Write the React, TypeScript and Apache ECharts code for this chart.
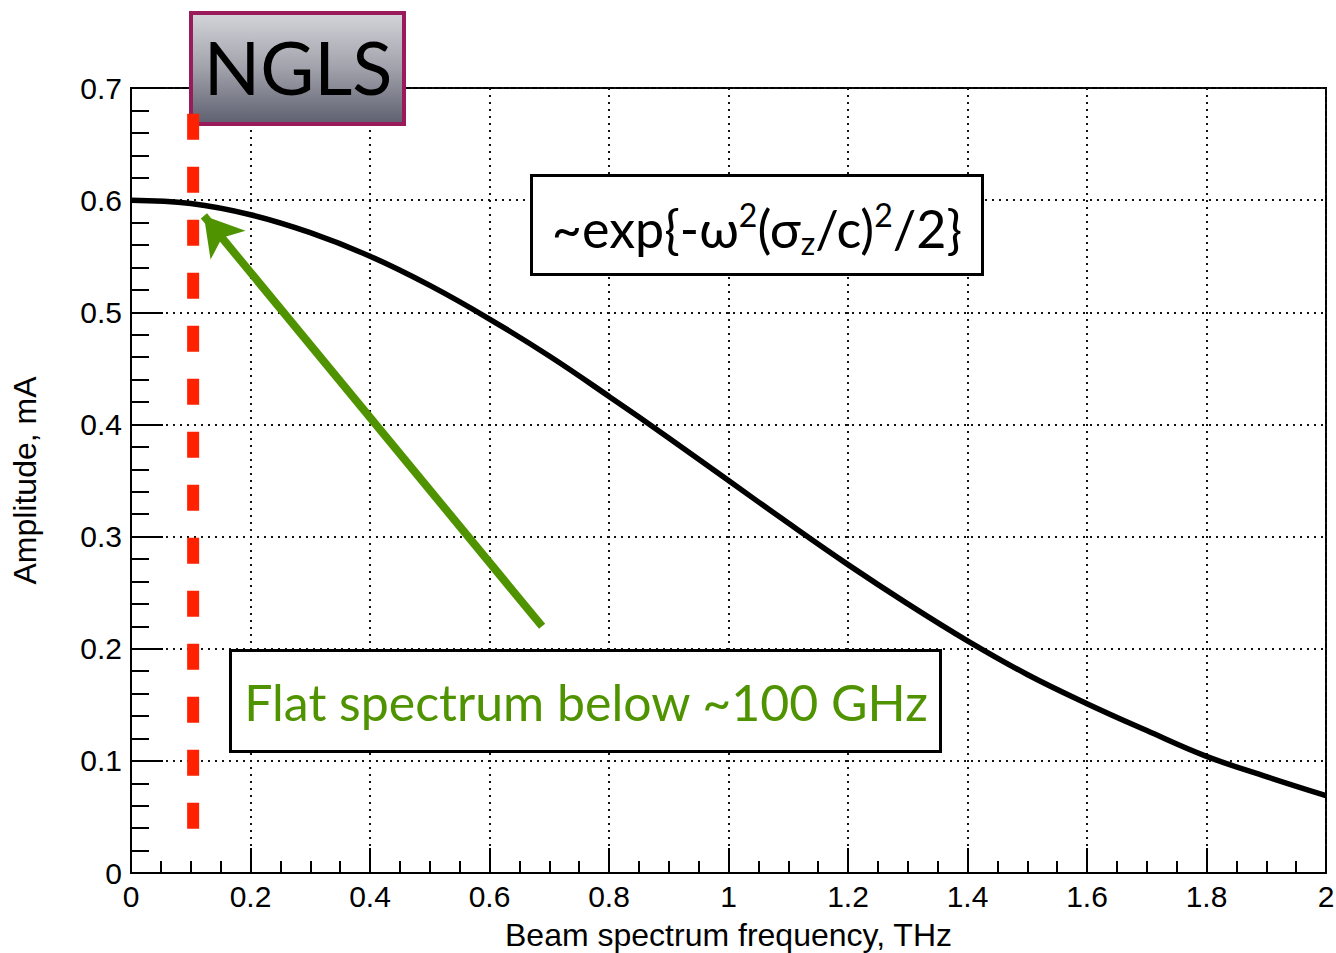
import React, { useEffect, useRef } from "react";
import * as echarts from "echarts";

const xValues = [0, 0.1, 0.2, 0.3, 0.4, 0.5, 0.6, 0.7, 0.8, 0.9, 1.0, 1.1, 1.2, 1.3, 1.4, 1.5, 1.6, 1.7, 1.8, 1.9, 2.0];
const amplitude = [0.600, 0.597, 0.587, 0.571, 0.550, 0.524, 0.494, 0.461, 0.425, 0.388, 0.350, 0.312, 0.275, 0.240, 0.207, 0.177, 0.151, 0.127, 0.104, 0.086, 0.069];

const cutoffX = [0.104, 0.104];
const cutoffY = [0.677, 0.034];

const arrowFrom = [0.688, 0.22];
const arrowTo = [0.122, 0.586];

const xTitle = "Beam spectrum frequency, THz";
const yTitle = "Amplitude, mA";
const boxLabel = "NGLS";
const flatLabel = "Flat spectrum below ~100 GHz";

const AXIS_FONT = "'Liberation Sans', Arial, sans-serif";
const BOX_FONT = "Lato, 'Open Sans', sans-serif";
const GREEN = "#4f9400";

export default function App() {
  const ref = useRef<HTMLDivElement>(null);
  useEffect(() => {
    document.body.style.margin = "0";
    const chart = echarts.init(ref.current!, undefined, { renderer: "svg" });
    const curve = xValues.map((x, i) => [x, amplitude[i]]);
    const cutoff = cutoffX.map((x, i) => [x, cutoffY[i]]);
    chart.setOption({
      animation: false,
      backgroundColor: "#fff",
      grid: {
        left: 131,
        right: 10,
        top: 88,
        bottom: 80,
        show: true,
        borderColor: "#000",
        borderWidth: 2,
        backgroundColor: "transparent",
        containLabel: false,
        outerBoundsMode: "none",
      },
      xAxis: {
        type: "value",
        min: 0,
        max: 2,
        interval: 0.2,
        name: xTitle,
        nameLocation: "middle",
        nameGap: 46,
        nameTextStyle: { fontFamily: AXIS_FONT, fontSize: 32, color: "#000" },
        axisLine: { show: true, lineStyle: { color: "#000", width: 2 } },
        axisTick: { show: true, inside: true, length: 25, lineStyle: { color: "#000", width: 2 } },
        minorTick: { show: true, splitNumber: 4, length: 12, lineStyle: { color: "#000", width: 2 } },
        axisLabel: { fontFamily: AXIS_FONT, fontSize: 30, color: "#000", margin: 8 },
        splitLine: { show: true, lineStyle: { color: "#111", width: 2, type: [2, 5] } },
      },
      yAxis: {
        type: "value",
        min: 0,
        max: 0.7,
        interval: 0.1,
        name: yTitle,
        nameLocation: "middle",
        nameGap: 90,
        nameTextStyle: { fontFamily: AXIS_FONT, fontSize: 32, color: "#000" },
        axisLine: { show: true, lineStyle: { color: "#000", width: 2 } },
        axisTick: { show: true, inside: true, length: 32, lineStyle: { color: "#000", width: 2 } },
        minorTick: { show: true, splitNumber: 5, length: 18, lineStyle: { color: "#000", width: 2 } },
        axisLabel: { fontFamily: AXIS_FONT, fontSize: 30, color: "#000", margin: 9 },
        splitLine: { show: true, lineStyle: { color: "#111", width: 2, type: [2, 5] } },
      },
      series: [
        {
          type: "line",
          data: curve,
          smooth: 0.4,
          showSymbol: false,
          lineStyle: { color: "#000", width: 5.5 },
          z: 3,
        },
        {
          type: "line",
          data: cutoff,
          showSymbol: false,
          lineStyle: { color: "#ff2200", width: 12, type: [26, 27], cap: "butt" },
          z: 4,
        },
        {
          type: "line",
          data: [],
          showSymbol: false,
          markLine: {
            silent: true,
            symbol: ["none", "arrow"],
            symbolSize: [34, 38],
            label: { show: false },
            lineStyle: { color: GREEN, width: 8, type: "solid" },
            data: [[{ coord: arrowFrom }, { coord: arrowTo }]],
          },
          z: 5,
        },
      ],
      graphic: [
        {
          type: "group",
          z: 1,
          children: [
            {
              type: "rect",
              shape: { x: 191, y: 13, width: 213, height: 111 },
              style: {
                fill: new echarts.graphic.LinearGradient(0, 0, 0, 1, [
                  { offset: 0, color: "#d4d5da" },
                  { offset: 0.5, color: "#a0a1aa" },
                  { offset: 1, color: "#5e6070" },
                ]),
                stroke: "#9a1b5c",
                lineWidth: 4,
              },
              z: 1,
            },
            {
              type: "text",
              x: 298,
              y: 66,
              style: {
                text: boxLabel,
                fontFamily: BOX_FONT,
                fontSize: 74,
                fill: "#000",
                align: "center",
                verticalAlign: "middle",
              },
              z: 2,
            },
          ],
        },
        {
          type: "group",
          z: 1,
          children: [
            {
              type: "rect",
              shape: { x: 531.5, y: 175.5, width: 451, height: 99 },
              style: { fill: "#fff", stroke: "#000", lineWidth: 3 },
              z: 1,
            },
            {
              type: "text",
              x: 757,
              y: 228,
              style: {
                text: "~exp{-ω{sup|2}(σ{sub|z}/c){sup|2}/2}",
                fontFamily: BOX_FONT,
                fontSize: 52,
                lineHeight: 60,
                fill: "#000",
                align: "center",
                verticalAlign: "middle",
                rich: {
                  sup: { fontFamily: BOX_FONT, fontSize: 32, lineHeight: 34, verticalAlign: "top", fill: "#000" },
                  sub: { fontFamily: BOX_FONT, fontSize: 32, lineHeight: 32, verticalAlign: "bottom", fill: "#000" },
                },
              },
              z: 2,
            },
          ],
        },
        {
          type: "group",
          z: 1,
          children: [
            {
              type: "rect",
              shape: { x: 230.5, y: 650.5, width: 710, height: 101 },
              style: { fill: "#fff", stroke: "#000", lineWidth: 3 },
              z: 1,
            },
            {
              type: "text",
              x: 586,
              y: 702,
              style: {
                text: flatLabel,
                fontFamily: BOX_FONT,
                fontSize: 50,
                fill: GREEN,
                align: "center",
                verticalAlign: "middle",
              },
              z: 2,
            },
          ],
        },
      ],
    });
    return () => chart.dispose();
  }, []);
  return <div ref={ref} style={{ width: 1336, height: 953 }} />;
}
